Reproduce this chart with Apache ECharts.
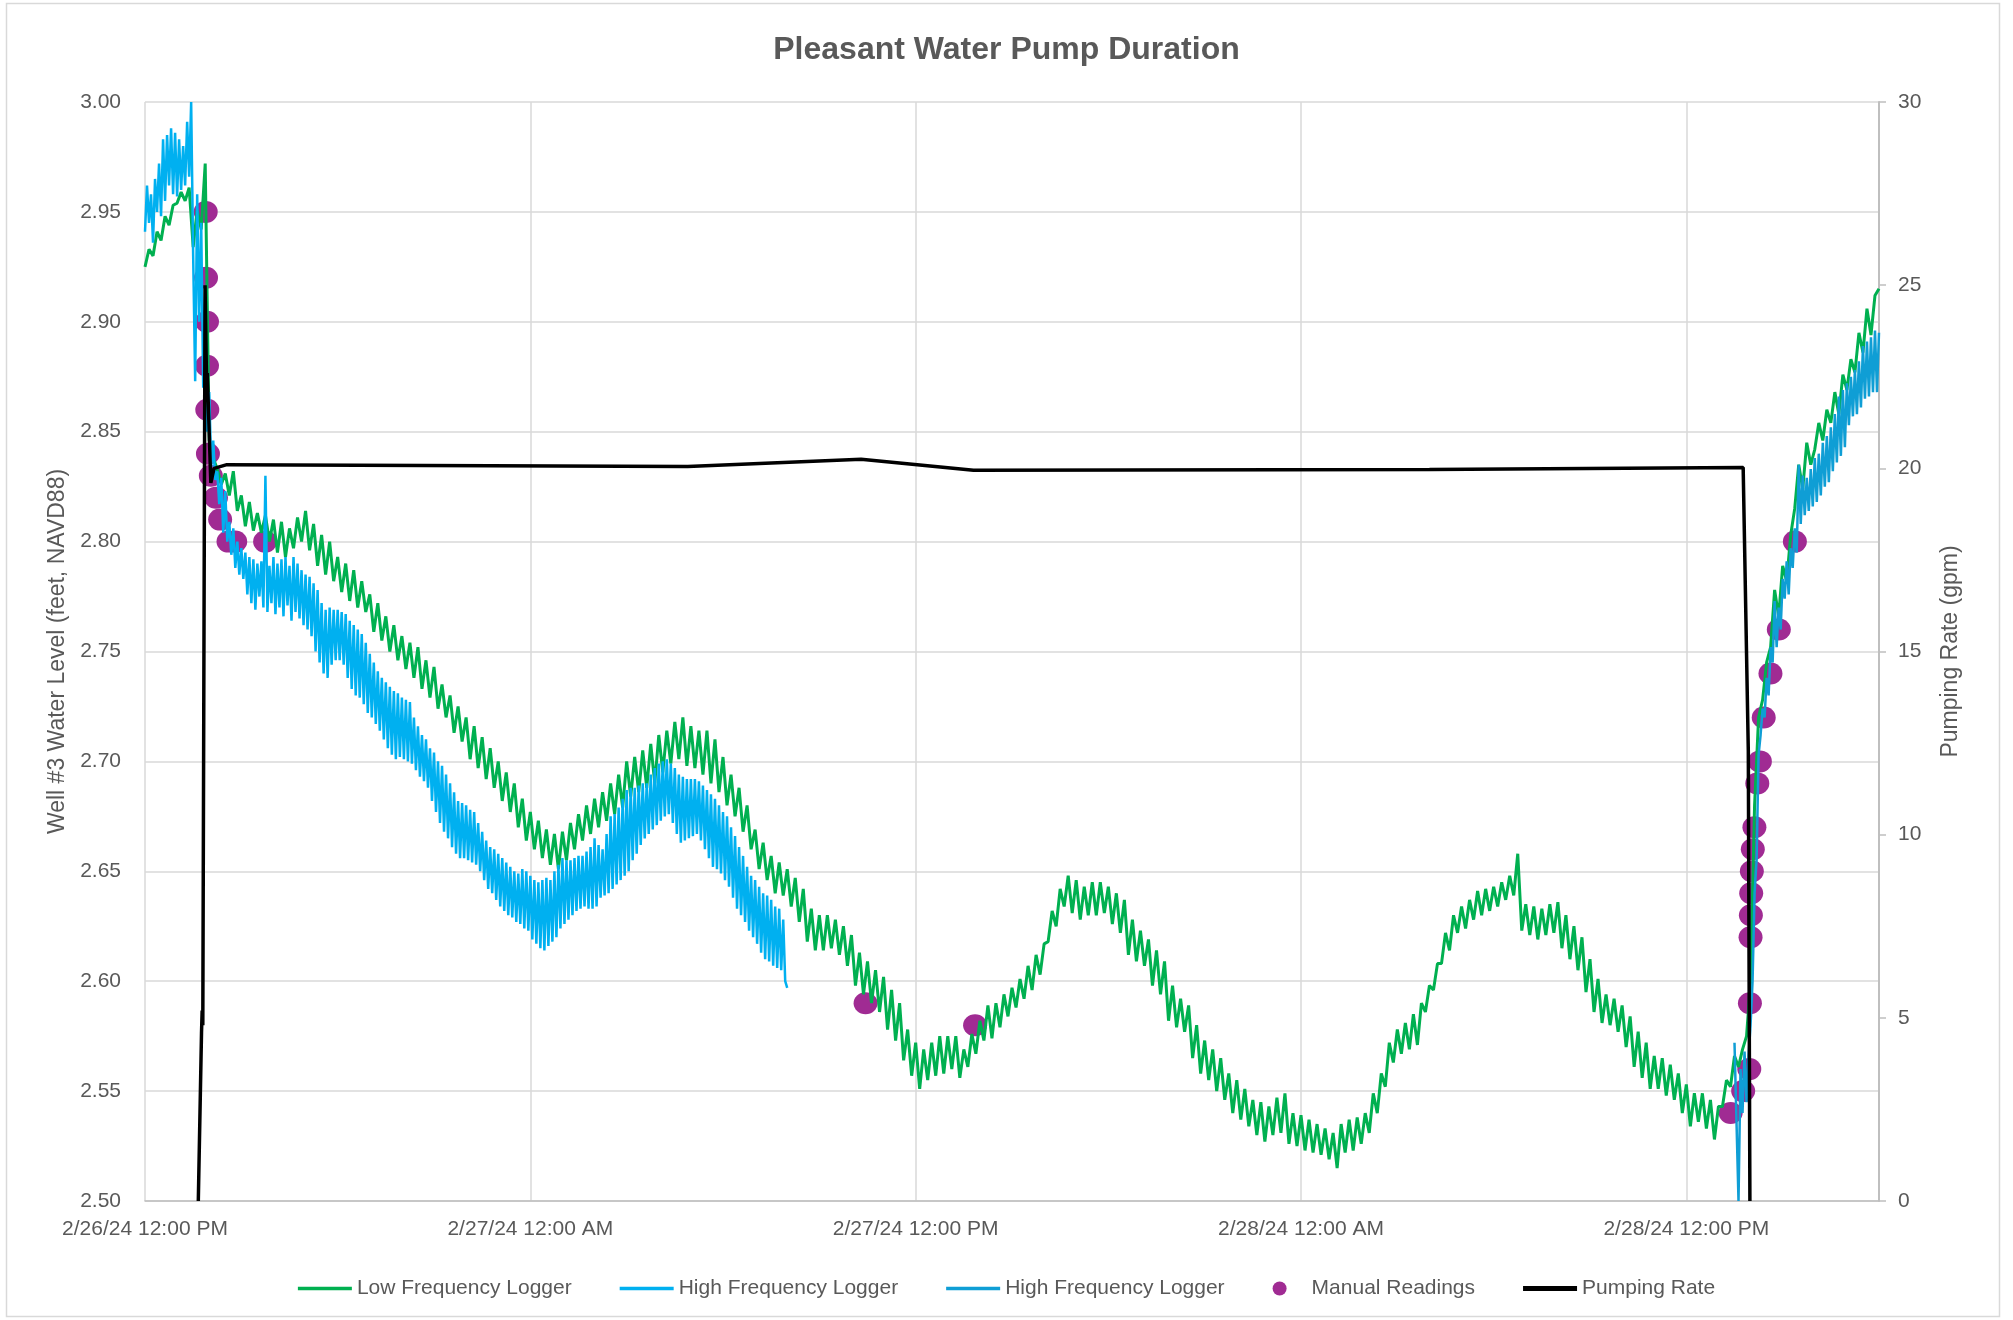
<!DOCTYPE html>
<html>
<head>
<meta charset="utf-8">
<title>Pleasant Water Pump Duration</title>
<script src="https://cdn.jsdelivr.net/npm/echarts@6/dist/echarts.min.js"></script>
<style>
  html, body { margin: 0; padding: 0; background: #ffffff; }
  #chart { width: 2013px; height: 1320px; }
</style>
</head>
<body>
<div id="chart"></div>
<script>
// Time is measured in hours after 2/26/24 12:00 PM.
const xTickLabels = ['2/26/24 12:00 PM', '2/27/24 12:00 AM', '2/27/24 12:00 PM', '2/28/24 12:00 AM', '2/28/24 12:00 PM'];

// Low frequency logger: one reading every 7.5 minutes from hour 0 (one row per hour).
const lowFreqStartHour = 0;
const lowFreqStepHours = 0.125;
const lowFreqLevel = [
  2.925, 2.933, 2.930, 2.941, 2.937, 2.948, 2.944, 2.953,
  2.954, 2.959, 2.955, 2.961, 2.934, 2.951, 2.942, 2.972,
  2.846, 2.838, 2.833, 2.826, 2.831, 2.821, 2.832, 2.814,
  2.821, 2.807, 2.818, 2.805, 2.813, 2.804, 2.812, 2.800,
  2.810, 2.795, 2.809, 2.793, 2.806, 2.797, 2.811, 2.800,
  2.814, 2.796, 2.808, 2.789, 2.803, 2.785, 2.800, 2.782,
  2.793, 2.777, 2.790, 2.773, 2.787, 2.770, 2.782, 2.768,
  2.776, 2.759, 2.772, 2.755, 2.766, 2.750, 2.762, 2.746,
  2.757, 2.742, 2.754, 2.738, 2.752, 2.733, 2.746, 2.729,
  2.743, 2.724, 2.735, 2.720, 2.730, 2.713, 2.725, 2.709,
  2.720, 2.701, 2.716, 2.697, 2.711, 2.692, 2.706, 2.688,
  2.700, 2.682, 2.695, 2.677, 2.690, 2.670, 2.683, 2.664,
  2.677, 2.660, 2.673, 2.656, 2.669, 2.653, 2.667, 2.651,
  2.668, 2.655, 2.672, 2.660, 2.676, 2.664, 2.680, 2.667,
  2.683, 2.670, 2.686, 2.673, 2.690, 2.676, 2.694, 2.679,
  2.700, 2.684, 2.702, 2.686, 2.705, 2.688, 2.708, 2.690,
  2.712, 2.695, 2.714, 2.699, 2.718, 2.701, 2.720, 2.698,
  2.716, 2.697, 2.714, 2.694, 2.714, 2.690, 2.710, 2.686,
  2.702, 2.680, 2.694, 2.675, 2.688, 2.668, 2.680, 2.660,
  2.669, 2.651, 2.663, 2.646, 2.657, 2.640, 2.654, 2.639,
  2.651, 2.634, 2.647, 2.627, 2.642, 2.618, 2.633, 2.614,
  2.630, 2.614, 2.630, 2.615, 2.628, 2.612, 2.625, 2.607,
  2.621, 2.598, 2.613, 2.594, 2.609, 2.590, 2.605, 2.586,
  2.602, 2.578, 2.596, 2.573, 2.590, 2.564, 2.578, 2.557,
  2.572, 2.551, 2.569, 2.555, 2.572, 2.557, 2.575, 2.558,
  2.575, 2.560, 2.575, 2.556, 2.569, 2.561, 2.576, 2.567,
  2.582, 2.573, 2.589, 2.574, 2.590, 2.579, 2.594, 2.584,
  2.597, 2.588, 2.601, 2.592, 2.607, 2.596, 2.612, 2.603,
  2.617, 2.618, 2.632, 2.625, 2.642, 2.634, 2.648, 2.631,
  2.646, 2.628, 2.643, 2.630, 2.645, 2.630, 2.645, 2.631,
  2.643, 2.626, 2.640, 2.622, 2.637, 2.612, 2.628, 2.609,
  2.623, 2.607, 2.619, 2.598, 2.614, 2.594, 2.609, 2.582,
  2.598, 2.579, 2.592, 2.577, 2.589, 2.565, 2.580, 2.558,
  2.573, 2.555, 2.569, 2.550, 2.565, 2.546, 2.558, 2.540,
  2.555, 2.537, 2.551, 2.534, 2.546, 2.530, 2.545, 2.527,
  2.543, 2.530, 2.547, 2.531, 2.549, 2.526, 2.540, 2.525,
  2.539, 2.523, 2.537, 2.522, 2.535, 2.521, 2.533, 2.519,
  2.531, 2.515, 2.535, 2.522, 2.537, 2.523, 2.538, 2.526,
  2.540, 2.531, 2.549, 2.540, 2.558, 2.552, 2.572, 2.563,
  2.578, 2.567, 2.581, 2.569, 2.585, 2.571, 2.590, 2.586,
  2.598, 2.596, 2.608, 2.608, 2.622, 2.614, 2.630, 2.622,
  2.634, 2.624, 2.637, 2.628, 2.641, 2.630, 2.642, 2.632,
  2.643, 2.634, 2.645, 2.637, 2.648, 2.639, 2.658, 2.623,
  2.635, 2.621, 2.634, 2.619, 2.633, 2.621, 2.635, 2.622,
  2.636, 2.615, 2.630, 2.610, 2.625, 2.605, 2.620, 2.595,
  2.610, 2.586, 2.601, 2.581, 2.594, 2.580, 2.592, 2.577,
  2.589, 2.570, 2.584, 2.561, 2.577, 2.556, 2.572, 2.551,
  2.566, 2.551, 2.565, 2.548, 2.562, 2.546, 2.558, 2.540,
  2.553, 2.534, 2.549, 2.536, 2.549, 2.533, 2.546, 2.528,
  2.543, 2.543, 2.555, 2.552, 2.566, 2.561, 2.569, 2.575,
  2.600, 2.680, 2.720, 2.728, 2.745, 2.752, 2.778, 2.766,
  2.789, 2.782, 2.803, 2.815, 2.835, 2.824, 2.845, 2.835,
  2.842, 2.854, 2.846, 2.860, 2.854, 2.868, 2.858, 2.876,
  2.869, 2.883, 2.877, 2.895, 2.886, 2.906, 2.894, 2.912,
  2.915
];

// High frequency logger, first deployment: one reading every 3.75 minutes from hour 0.
const highFreqAStartHour = 0;
const highFreqAStepHours = 0.0625;
const highFreqALevel = [
  2.941, 2.962, 2.945, 2.958, 2.936, 2.965, 2.950, 2.972, 2.948, 2.983, 2.955, 2.985, 2.962, 2.988, 2.958, 2.986,
  2.957, 2.983, 2.960, 2.980, 2.962, 2.991, 2.966, 3.000, 2.930, 2.873, 2.958, 2.900, 2.945, 2.870, 2.912, 2.850,
  2.868, 2.834, 2.846, 2.828, 2.832, 2.817, 2.829, 2.804, 2.823, 2.800, 2.809, 2.794, 2.806, 2.788, 2.800, 2.785,
  2.797, 2.783, 2.795, 2.776, 2.793, 2.772, 2.792, 2.769, 2.790, 2.775, 2.791, 2.770, 2.830, 2.768, 2.789, 2.772,
  2.793, 2.767, 2.790, 2.770, 2.792, 2.766, 2.793, 2.771, 2.789, 2.764, 2.793, 2.768, 2.790, 2.765, 2.787, 2.762,
  2.785, 2.760, 2.784, 2.757, 2.781, 2.750, 2.778, 2.745, 2.772, 2.740, 2.769, 2.738, 2.770, 2.744, 2.769, 2.746,
  2.769, 2.746, 2.768, 2.744, 2.767, 2.738, 2.764, 2.733, 2.762, 2.730, 2.760, 2.729, 2.758, 2.726, 2.754, 2.722,
  2.749, 2.720, 2.745, 2.717, 2.741, 2.714, 2.738, 2.710, 2.736, 2.706, 2.734, 2.703, 2.732, 2.701, 2.731, 2.702,
  2.729, 2.701, 2.728, 2.700, 2.727, 2.699, 2.720, 2.696, 2.716, 2.693, 2.712, 2.691, 2.710, 2.688, 2.706, 2.682,
  2.704, 2.677, 2.700, 2.672, 2.698, 2.668, 2.694, 2.665, 2.690, 2.661, 2.686, 2.658, 2.682, 2.656, 2.681, 2.656,
  2.680, 2.655, 2.678, 2.654, 2.677, 2.653, 2.672, 2.650, 2.668, 2.646, 2.664, 2.642, 2.661, 2.640, 2.660, 2.637,
  2.658, 2.634, 2.656, 2.632, 2.654, 2.630, 2.652, 2.629, 2.650, 2.627, 2.649, 2.626, 2.651, 2.624, 2.650, 2.623,
  2.648, 2.619, 2.646, 2.617, 2.645, 2.615, 2.646, 2.614, 2.647, 2.616, 2.646, 2.618, 2.650, 2.620, 2.653, 2.624,
  2.656, 2.626, 2.655, 2.628, 2.655, 2.630, 2.656, 2.632, 2.657, 2.633, 2.657, 2.634, 2.659, 2.633, 2.661, 2.633,
  2.665, 2.634, 2.662, 2.638, 2.660, 2.639, 2.667, 2.640, 2.675, 2.642, 2.676, 2.644, 2.679, 2.646, 2.683, 2.648,
  2.687, 2.650, 2.688, 2.655, 2.688, 2.658, 2.689, 2.662, 2.690, 2.665, 2.690, 2.667, 2.694, 2.669, 2.697, 2.671,
  2.699, 2.673, 2.700, 2.675, 2.701, 2.676, 2.699, 2.672, 2.697, 2.667, 2.694, 2.663, 2.693, 2.664, 2.692, 2.665,
  2.692, 2.666, 2.692, 2.667, 2.691, 2.664, 2.689, 2.660, 2.687, 2.656, 2.685, 2.652, 2.683, 2.651, 2.680, 2.649,
  2.677, 2.646, 2.675, 2.643, 2.670, 2.638, 2.666, 2.633, 2.661, 2.630, 2.657, 2.627, 2.652, 2.623, 2.648, 2.620,
  2.646, 2.617, 2.643, 2.613, 2.640, 2.610, 2.639, 2.609, 2.637, 2.607, 2.634, 2.606, 2.633, 2.605, 2.628, 2.600,
  2.597
];

// High frequency logger, second deployment: one reading every 3.75 minutes from hour 49.5.
const highFreqBStartHour = 49.5;
const highFreqBStepHours = 0.0625;
const highFreqBLevel = [
  2.572, 2.536, 2.500, 2.560, 2.540, 2.568, 2.545, 2.566,
  2.580, 2.600, 2.640, 2.655, 2.703, 2.712, 2.724, 2.720, 2.738, 2.730, 2.752, 2.745, 2.773, 2.752, 2.770, 2.760,
  2.783, 2.774, 2.791, 2.776, 2.797, 2.788, 2.806, 2.795, 2.835, 2.808, 2.830, 2.812, 2.829, 2.814, 2.833, 2.816,
  2.838, 2.818, 2.840, 2.821, 2.845, 2.825, 2.848, 2.827, 2.852, 2.832, 2.858, 2.836, 2.866, 2.839, 2.869, 2.843,
  2.872, 2.853, 2.875, 2.857, 2.878, 2.858, 2.882, 2.861, 2.889, 2.865, 2.891, 2.866, 2.893, 2.868, 2.896, 2.868,
  2.895
];

// Manual tape readings.
const manualHours = [1.89, 1.90, 1.93, 1.93, 1.94, 1.96, 2.05, 2.21, 2.34, 2.60, 2.81, 3.74,
  22.44, 25.85,
  49.38, 49.77, 49.96, 49.98, 50.00, 50.01, 50.02, 50.04, 50.07, 50.12, 50.21, 50.29, 50.41, 50.62, 50.88, 51.38];
const manualLevel = [2.95, 2.92, 2.90, 2.88, 2.86, 2.84, 2.83, 2.82, 2.81, 2.80, 2.80, 2.80,
  2.59, 2.58,
  2.54, 2.55, 2.56, 2.59, 2.62, 2.63, 2.64, 2.65, 2.66, 2.67, 2.69, 2.70, 2.72, 2.74, 2.76, 2.80];

// Pumping rate (gpm).
const pumpHours = [1.66, 1.76, 1.78, 1.80, 1.87, 1.92, 1.94, 2.05, 2.15, 2.55, 16.9, 22.3, 25.8, 40.0, 49.77, 49.93, 49.98];
const pumpRate  = [0, 4.6, 5.2, 4.8, 25.0, 22.2, 22.6, 19.6, 20.0, 20.1, 20.05, 20.25, 19.95, 19.97, 20.02, 12.3, 0];

const sampled = (start, step, values) => values.map((v, i) => [start + i * step, v]);
const paired = (xs, ys) => xs.map((x, i) => [x, ys[i]]);

const FONT = "'Liberation Sans', Arial, sans-serif";
const TEXT = '#595959';
const GRID = '#d9d9d9';
const GREEN = '#00b050';
const SKY = '#00b0f0';
const BLUE = '#0f9ed5';
const PURPLE = '#a02b93';

// Legend keys drawn as flat bars of the series colour.
const thinBar = 'path://M0,0 L54,0 L54,3.5 L0,3.5 Z';
const thickBar = 'path://M0,0 L54,0 L54,5 L0,5 Z';

const chart = echarts.init(document.getElementById('chart'), null, { renderer: 'canvas' });

chart.setOption({
  animation: false,
  backgroundColor: '#ffffff',
  textStyle: { fontFamily: FONT, color: TEXT },
  title: {
    text: 'Pleasant Water Pump Duration',
    left: 'center',
    top: 29,
    textStyle: { fontFamily: FONT, fontSize: 32, fontWeight: 'bold', color: TEXT }
  },
  graphic: [{
    type: 'rect',
    shape: { x: 6.5, y: 3.5, width: 1993, height: 1313 },
    style: { fill: 'none', stroke: GRID, lineWidth: 1.5 },
    silent: true,
    z: -1
  }],
  legend: {
    left: 'center',
    top: 1273,
    itemWidth: 54,
    itemHeight: 14,
    itemGap: 48,
    symbolKeepAspect: true,
    textStyle: { fontFamily: FONT, fontSize: 21, color: TEXT },
    data: [
      { name: 'Low Frequency Logger', icon: thinBar, itemStyle: { color: GREEN } },
      { name: 'High Frequency Logger', icon: thinBar, itemStyle: { color: SKY } },
      { name: 'High Frequency Logger ', icon: thinBar, itemStyle: { color: BLUE } },
      { name: 'Manual Readings', icon: 'circle', itemStyle: { color: PURPLE } },
      { name: 'Pumping Rate', icon: thickBar, itemStyle: { color: '#000000' } }
    ],
    formatter: name => name.trim()
  },
  grid: {
    left: 145, right: 134, top: 102, bottom: 119,
    containLabel: false,
    outerBoundsMode: 'none'
  },
  xAxis: {
    type: 'value',
    min: 0,
    max: 54,
    interval: 12,
    axisLine: { show: true, lineStyle: { color: '#bfbfbf', width: 1.5 } },
    axisTick: { show: false },
    axisLabel: {
      margin: 18,
      fontFamily: FONT, fontSize: 21, color: TEXT,
      formatter: v => (v % 12 === 0 ? xTickLabels[v / 12] : '')
    },
    splitLine: { show: true, lineStyle: { color: GRID, width: 1.5 } }
  },
  yAxis: [{
    type: 'value',
    min: 2.5,
    max: 3.0,
    interval: 0.05,
    position: 'left',
    name: 'Well #3 Water Level (feet, NAVD88)',
    nameLocation: 'middle',
    nameRotate: 90,
    nameGap: 76,
    nameTextStyle: { fontFamily: FONT, fontSize: 23, color: TEXT },
    axisLine: { show: false },
    axisTick: { show: false },
    axisLabel: { margin: 24, fontFamily: FONT, fontSize: 21, color: TEXT, formatter: v => v.toFixed(2) },
    splitLine: { show: true, lineStyle: { color: GRID, width: 1.5 } }
  }, {
    type: 'value',
    min: 0,
    max: 30,
    interval: 5,
    position: 'right',
    name: 'Pumping Rate (gpm)',
    nameLocation: 'middle',
    nameRotate: 90,
    nameGap: 60,
    nameTextStyle: { fontFamily: FONT, fontSize: 23, color: TEXT },
    axisLine: { show: true, lineStyle: { color: '#bfbfbf', width: 2 } },
    axisTick: { show: true, length: 7, lineStyle: { color: '#bfbfbf', width: 1.5 } },
    axisLabel: { margin: 19, fontFamily: FONT, fontSize: 21, color: TEXT },
    splitLine: { show: false }
  }],
  series: [{
    name: 'Low Frequency Logger',
    type: 'line',
    yAxisIndex: 0,
    symbol: 'none',
    data: sampled(lowFreqStartHour, lowFreqStepHours, lowFreqLevel),
    lineStyle: { color: GREEN, width: 3 },
    itemStyle: { color: GREEN }
  }, {
    name: 'High Frequency Logger',
    type: 'line',
    yAxisIndex: 0,
    symbol: 'none',
    data: sampled(highFreqAStartHour, highFreqAStepHours, highFreqALevel),
    lineStyle: { color: SKY, width: 2.5 },
    itemStyle: { color: SKY }
  }, {
    name: 'High Frequency Logger ',
    type: 'line',
    yAxisIndex: 0,
    symbol: 'none',
    data: sampled(highFreqBStartHour, highFreqBStepHours, highFreqBLevel),
    lineStyle: { color: BLUE, width: 2.5 },
    itemStyle: { color: BLUE }
  }, {
    name: 'Manual Readings',
    type: 'scatter',
    yAxisIndex: 0,
    symbol: 'circle',
    symbolSize: [24, 22],
    data: paired(manualHours, manualLevel),
    itemStyle: { color: PURPLE, opacity: 1 }
  }, {
    name: 'Pumping Rate',
    type: 'line',
    yAxisIndex: 1,
    symbol: 'none',
    data: paired(pumpHours, pumpRate),
    lineStyle: { color: '#000000', width: 3.5 },
    itemStyle: { color: '#000000' }
  }]
});
</script>
</body>
</html>
